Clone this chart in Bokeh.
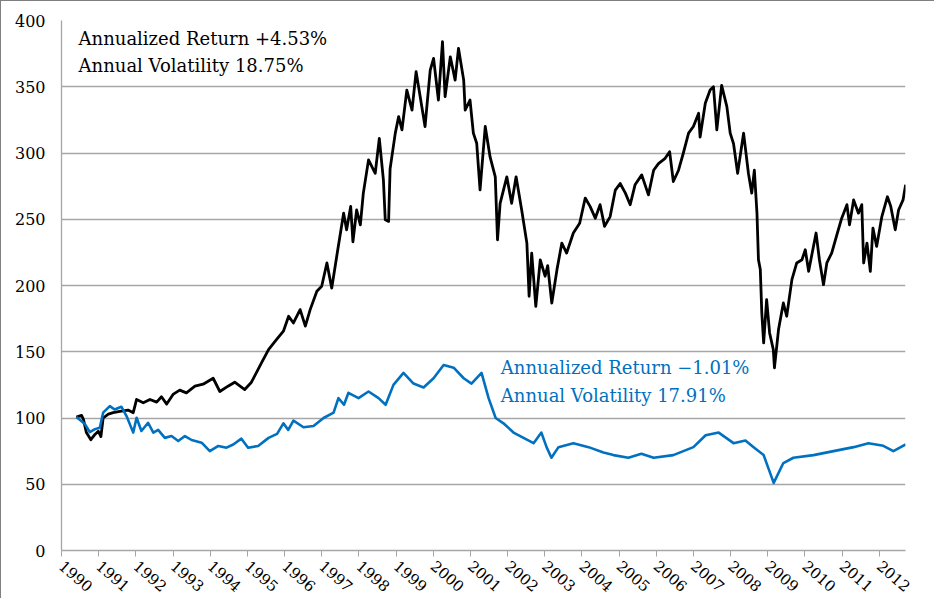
from bokeh.plotting import figure
from bokeh.models import Range1d, FixedTicker, Label
from bokeh.embed import file_html
from bokeh.resources import INLINE

# ---- data ----
years = list(range(1990, 2013))
y_ticks = [0, 50, 100, 150, 200, 250, 300, 350, 400]

black_x = [1990.40, 1990.54, 1990.59, 1990.67, 1990.79, 1990.90, 1990.99, 1991.06, 1991.12, 1991.26,
           1991.39, 1991.57, 1991.79, 1991.93, 1992.02, 1992.20, 1992.38, 1992.56, 1992.69, 1992.83,
           1993.00, 1993.18, 1993.36, 1993.59, 1993.81, 1994.08, 1994.26, 1994.48, 1994.66, 1994.93,
           1995.11, 1995.38, 1995.57, 1995.75, 1995.97, 1996.11, 1996.24, 1996.42, 1996.56, 1996.69,
           1996.87, 1997.00, 1997.14, 1997.27, 1997.41, 1997.59, 1997.67, 1997.78, 1997.84, 1997.94,
           1998.04, 1998.12, 1998.26, 1998.44, 1998.55, 1998.66, 1998.71, 1998.80, 1998.84, 1998.98,
           1999.07, 1999.16, 1999.29, 1999.43, 1999.54, 1999.65, 1999.78, 1999.92, 2000.01, 2000.14,
           2000.25, 2000.32, 2000.46, 2000.59, 2000.68, 2000.82, 2000.86, 2000.99, 2001.08, 2001.17,
           2001.26, 2001.40, 2001.53, 2001.67, 2001.73, 2001.80, 2001.98, 2002.11, 2002.23, 2002.38,
           2002.52, 2002.58, 2002.65, 2002.76, 2002.88, 2003.01, 2003.08, 2003.19, 2003.33, 2003.46,
           2003.59, 2003.77, 2003.94, 2004.09, 2004.22, 2004.36, 2004.49, 2004.61, 2004.76, 2004.90,
           2005.03, 2005.17, 2005.30, 2005.43, 2005.61, 2005.79, 2005.93, 2006.06, 2006.24, 2006.36,
           2006.46, 2006.60, 2006.73, 2006.87, 2007.00, 2007.14, 2007.18, 2007.32, 2007.45, 2007.54,
           2007.63, 2007.76, 2007.90, 2007.99, 2008.08, 2008.19, 2008.35, 2008.48, 2008.57, 2008.64,
           2008.71, 2008.75, 2008.80, 2008.84, 2008.89, 2008.97, 2009.05, 2009.15, 2009.18, 2009.29,
           2009.42, 2009.51, 2009.65, 2009.78, 2009.92, 2010.01, 2010.10, 2010.30, 2010.39, 2010.50,
           2010.59, 2010.72, 2010.86, 2010.99, 2011.13, 2011.20, 2011.31, 2011.44, 2011.53, 2011.58,
           2011.67, 2011.76, 2011.83, 2011.93, 2012.07, 2012.22, 2012.31, 2012.43, 2012.52, 2012.64,
           2012.71]
black_y = [100.7, 102, 99, 89, 83.6, 87.6, 90, 86, 100, 103,
           104, 105, 106, 104, 114, 111.5, 114, 112, 116, 110.5,
           117.8, 121, 119, 124, 125.5, 130, 120, 124, 127, 121.5,
           127, 141.6, 151.6, 158, 165.5, 176.8, 171.7, 181.8, 169.3, 181.8,
           195.6, 199.4, 217, 198, 223, 254.6, 242, 259.7, 233, 257,
           245.8, 269.7, 294.8, 284.7, 311, 279.7, 249.6, 248.4, 288, 315,
           327.5, 317.4, 347.5, 332.4, 361.4, 342.5, 320, 362.6, 371.4, 340,
           384, 342.5, 372.6, 355, 379, 355, 332.4, 340, 315, 307.4,
           272.2, 320, 297, 282, 234.5, 262, 282, 262, 282, 257,
           232, 191.9, 224.5, 184.3, 219.4, 207, 215, 186.8, 212, 232,
           224.5, 239.6, 247, 266, 259.7, 250.8, 261, 244.6, 252, 272,
           277, 269.7, 261, 276, 283.5, 268.4, 287, 292, 296, 301,
           278.5, 287, 300, 315, 320, 330, 312, 337.5, 347.5, 350,
           317.4, 351, 335, 315, 307, 284.7, 315, 284.7, 269.7, 287,
           254.6, 219.4, 212, 179.3, 156.7, 189.3, 164.2, 151.6, 137.9, 166.7,
           186.8, 176.8, 204.4, 217, 219.4, 227, 210.7, 239.6, 219.4, 200.6,
           217, 224.5, 238.3, 250.8, 261, 245.8, 264.6, 254.6, 261, 217,
           232, 210.7, 243.3, 229.5, 252, 267, 259.7, 242, 257, 264.6,
           276]

blue_x = [1990.40, 1990.63, 1990.76, 1990.90, 1991.03, 1991.12, 1991.30, 1991.43, 1991.61, 1991.75,
          1991.84, 1991.93, 1992.02, 1992.15, 1992.33, 1992.47, 1992.60, 1992.78, 1992.96, 1993.14,
          1993.32, 1993.50, 1993.77, 1993.99, 1994.22, 1994.44, 1994.62, 1994.84, 1995.02, 1995.29,
          1995.57, 1995.80, 1995.97, 1996.10, 1996.24, 1996.51, 1996.78, 1997.05, 1997.32, 1997.45,
          1997.60, 1997.72, 1997.99, 1998.26, 1998.53, 1998.72, 1998.93, 1999.20, 1999.47, 1999.74,
          2000.01, 2000.28, 2000.55, 2000.82, 2001.03, 2001.30, 2001.49, 2001.68, 2001.89, 2002.16,
          2002.43, 2002.70, 2002.91, 2003.05, 2003.18, 2003.37, 2003.77, 2004.18, 2004.58, 2004.85,
          2005.25, 2005.60, 2005.93, 2006.46, 2007.00, 2007.33, 2007.68, 2008.08, 2008.40, 2008.62,
          2008.89, 2009.16, 2009.42, 2009.69, 2010.23, 2010.77, 2011.31, 2011.71, 2012.11, 2012.38,
          2012.71]
blue_y = [100.7, 95.4, 89.4, 91.6, 92.7, 104, 109, 106.4, 108.5, 101.5,
          95.2, 89, 100.2, 90.2, 96.4, 88.9, 91, 85, 86.4, 82.6,
          86.4, 83.4, 81.4, 75, 78.9, 77.6, 80, 84.4, 77.6, 78.9,
          85, 88, 96, 91, 98, 93, 94, 100, 104, 115,
          110, 119, 115, 120, 115, 110, 125, 134, 126, 123,
          130, 140, 138, 130, 126, 134, 115, 100, 96, 89,
          85, 81, 89, 78, 70, 78, 81, 78, 74, 72,
          70, 73, 70, 72, 78, 87, 89, 81, 83, 78,
          72, 51, 66, 70, 72, 75, 78, 81, 79, 75,
          80]

black_note = ["Annualized Return +4.53%", "Annual Volatility 18.75%"]
blue_note = ["Annualized Return \u22121.01%", "Annual Volatility 17.91%"]

BLACK = "#000000"
BLUE = "#0070C0"
GRID = "#a6a6a6"
SERIF = "DejaVu Serif"

p = figure(width=934, height=598, output_backend="svg", toolbar_location=None,
           x_range=Range1d(1990, 2012.706), y_range=Range1d(0, 400),
           min_border_left=60, min_border_right=30, min_border_top=19, min_border_bottom=48)
p.styles = {"border-top": "1px solid #7f7f7f", "border-left": "1px solid #7f7f7f"}
p.outline_line_color = None
p.background_fill_color = "white"
p.border_fill_color = "white"

p.line(black_x, black_y, line_color=BLACK, line_width=2.8, line_join="round")
p.line(blue_x, blue_y, line_color=BLUE, line_width=2.6, line_join="round")

# axes
p.xgrid.visible = False
p.ygrid.ticker = FixedTicker(ticks=y_ticks)
p.ygrid.grid_line_color = GRID
p.ygrid.grid_line_width = 1.3

p.xaxis.ticker = FixedTicker(ticks=years)
p.xaxis.major_label_overrides = {y: str(y) for y in years}
p.xaxis.major_label_orientation = -0.72
p.xaxis.major_tick_out = 6
p.xaxis.major_tick_in = 0
p.xaxis.minor_tick_line_color = None
p.xaxis.axis_line_color = GRID
p.xaxis.major_tick_line_color = GRID
p.xaxis.axis_line_width = 1.3
p.xaxis.major_label_text_font = SERIF
p.xaxis.major_label_text_font_size = "15px"
p.xaxis.major_label_text_color = BLACK
p.xaxis.major_label_standoff = 7

p.yaxis.ticker = FixedTicker(ticks=y_ticks)
p.yaxis.major_tick_out = 0
p.yaxis.major_tick_in = 0
p.yaxis.minor_tick_line_color = None
p.yaxis.axis_line_color = GRID
p.yaxis.axis_line_width = 1.3
p.yaxis.major_label_text_font = SERIF
p.yaxis.major_label_text_font_size = "16px"
p.yaxis.major_label_text_color = BLACK
p.yaxis.major_label_standoff = 16

# annotations
for i, t in enumerate(black_note):
    p.add_layout(Label(x=1990.46, y=386.5 - 20.5 * i, text=t, text_font=SERIF,
                       text_font_size="18px", text_color=BLACK, text_baseline="middle"))
for i, t in enumerate(blue_note):
    p.add_layout(Label(x=2001.82, y=137.9 - 21 * i, text=t, text_font=SERIF,
                       text_font_size="18px", text_color=BLUE, text_baseline="middle"))

open("out.html", "w").write(file_html(p, INLINE))
